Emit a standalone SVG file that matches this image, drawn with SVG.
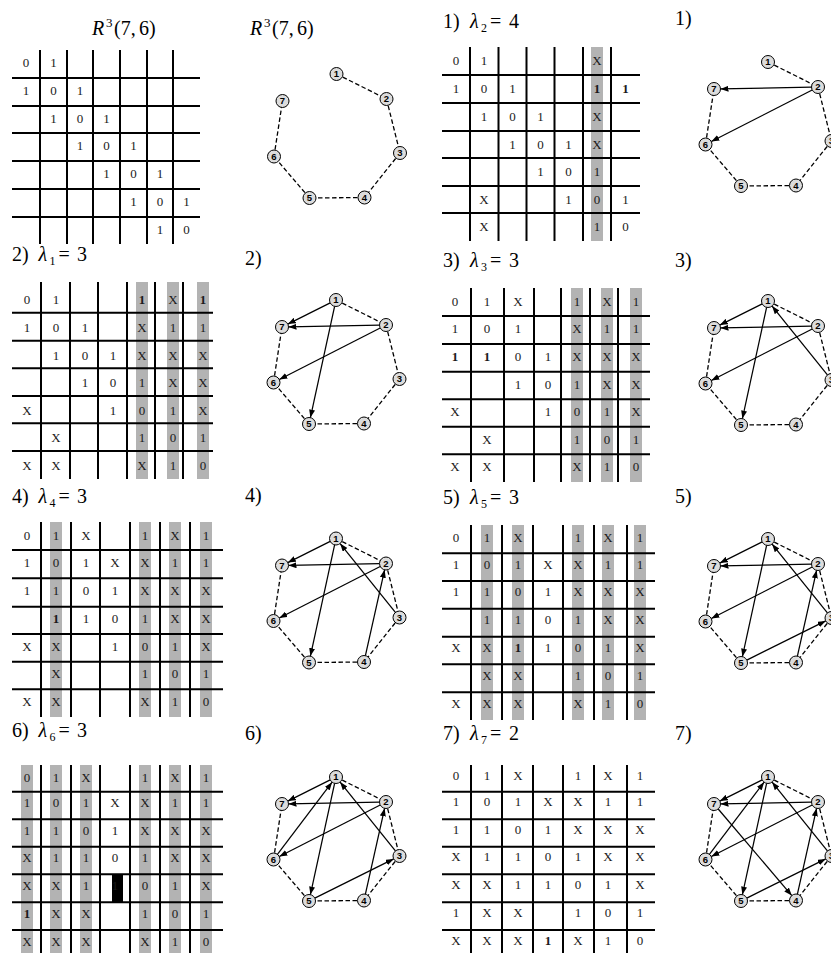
<svg xmlns="http://www.w3.org/2000/svg" width="831" height="953" viewBox="0 0 831 953">
<style>
.ml{stroke:#000;stroke-width:2;fill:none}
.gb{fill:#b3b3b3}
.c{font-family:"Liberation Serif","Times New Roman",serif;font-size:13px;fill:#1a1a1a;text-anchor:middle}
.b{font-weight:bold}
.t{font-family:"Liberation Serif","Times New Roman",serif;font-size:20px;fill:#000}
.it{font-style:italic}
.sb{font-size:12px}
.sp{font-size:13px}
.de{stroke:#000;stroke-width:1.3;stroke-dasharray:4.5 2.5;fill:none}
.ar{stroke:#000;stroke-width:1.25;fill:none;marker-end:url(#ah)}
.nd circle{fill:#dcdcdc;stroke:#000;stroke-width:1}
.nd text{font-family:"Liberation Sans",Arial,sans-serif;font-weight:bold;font-size:9.5px;text-anchor:middle;fill:#000}
</style>
<defs>
<marker id="ah" viewBox="0 0 8 6" refX="8" refY="3" markerWidth="8" markerHeight="6" markerUnits="userSpaceOnUse" orient="auto"><path d="M0 0L8 3L0 6z" fill="#000"/></marker>
</defs>
<rect width="831" height="953" fill="#fff"/>

<!-- Titles -->
<g id="titles">
<text class="t" y="35"><tspan x="92" class="it">R</tspan><tspan x="106" dy="-8" class="sp">3</tspan><tspan x="114" dy="8">(7,</tspan><tspan x="139">6)</tspan></text>
<text class="t" y="35"><tspan x="250" class="it">R</tspan><tspan x="264" dy="-8" class="sp">3</tspan><tspan x="272" dy="8">(7,</tspan><tspan x="297">6)</tspan></text>
<text class="t" y="27.5"><tspan x="443">1)</tspan><tspan x="470" class="it">λ</tspan><tspan x="481" dy="4" class="sb">2</tspan><tspan x="490" dy="-4">=</tspan><tspan x="509">4</tspan></text>
<text class="t" x="675" y="25">1)</text>
<text class="t" y="261"><tspan x="12">2)</tspan><tspan x="38.5" class="it">λ</tspan><tspan x="49.5" dy="4" class="sb">1</tspan><tspan x="58.5" dy="-4">=</tspan><tspan x="77">3</tspan></text>
<text class="t" x="245" y="265">2)</text>
<text class="t" y="267"><tspan x="443">3)</tspan><tspan x="470" class="it">λ</tspan><tspan x="481" dy="4" class="sb">3</tspan><tspan x="490" dy="-4">=</tspan><tspan x="509">3</tspan></text>
<text class="t" x="675" y="267">3)</text>
<text class="t" y="503"><tspan x="12">4)</tspan><tspan x="38.5" class="it">λ</tspan><tspan x="49.5" dy="4" class="sb">4</tspan><tspan x="58.5" dy="-4">=</tspan><tspan x="77">3</tspan></text>
<text class="t" x="245" y="502">4)</text>
<text class="t" y="504"><tspan x="443">5)</tspan><tspan x="470" class="it">λ</tspan><tspan x="481" dy="4" class="sb">5</tspan><tspan x="490" dy="-4">=</tspan><tspan x="509">3</tspan></text>
<text class="t" x="675" y="503">5)</text>
<text class="t" y="737"><tspan x="12">6)</tspan><tspan x="38.5" class="it">λ</tspan><tspan x="49.5" dy="4" class="sb">6</tspan><tspan x="58.5" dy="-4">=</tspan><tspan x="77">3</tspan></text>
<text class="t" x="245" y="740">6)</text>
<text class="t" y="740"><tspan x="443">7)</tspan><tspan x="470" class="it">λ</tspan><tspan x="481" dy="4" class="sb">7</tspan><tspan x="490" dy="-4">=</tspan><tspan x="509">2</tspan></text>
<text class="t" x="675" y="740">7)</text>
</g>

<!-- Matrix A: R3(7,6) -->
<g id="matA">
<path class="ml" d="M12 78H200M12 106H200M12 133H200M12 161H200M12 189H200M12 217H200M40 50V244M67 50V244M93 50V244M120 50V244M147 50V244M173 50V244"/>
<text class="c" y="66.5"><tspan x="26">0</tspan><tspan x="53.5">1</tspan></text>
<text class="c" y="94.5"><tspan x="26">1</tspan><tspan x="53.5">0</tspan><tspan x="80">1</tspan></text>
<text class="c" y="122.5"><tspan x="53.5">1</tspan><tspan x="80">0</tspan><tspan x="106.5">1</tspan></text>
<text class="c" y="149.5"><tspan x="80">1</tspan><tspan x="106.5">0</tspan><tspan x="133.5">1</tspan></text>
<text class="c" y="177.5"><tspan x="106.5">1</tspan><tspan x="133.5">0</tspan><tspan x="160">1</tspan></text>
<text class="c" y="205.5"><tspan x="133.5">1</tspan><tspan x="160">0</tspan><tspan x="186.5">1</tspan></text>
<text class="c" y="233.5"><tspan x="160">1</tspan><tspan x="186.5">0</tspan></text>
</g>

<!-- Matrix B: 1) -->
<g id="matB">
<rect class="gb" x="591" y="47" width="12" height="194"/>
<path class="ml" d="M442 75H640M442 103H640M442 131H640M442 158H640M442 186H640M442 213H640M470 47V241M498.5 47V241M526.5 47V241M554.5 47V241M583 47V241M611 47V241"/>
<text class="c" y="64.5"><tspan x="456">0</tspan><tspan x="484">1</tspan><tspan x="597">X</tspan></text>
<text class="c" y="92.8"><tspan x="456">1</tspan><tspan x="484">0</tspan><tspan x="512.5">1</tspan><tspan x="597" class="b">1</tspan><tspan x="625.5" class="b">1</tspan></text>
<text class="c" y="120.8"><tspan x="484">1</tspan><tspan x="512.5">0</tspan><tspan x="540.5">1</tspan><tspan x="597">X</tspan></text>
<text class="c" y="148.8"><tspan x="512.5">1</tspan><tspan x="540.5">0</tspan><tspan x="568.5">1</tspan><tspan x="597">X</tspan></text>
<text class="c" y="175.8"><tspan x="540.5">1</tspan><tspan x="568.5">0</tspan><tspan x="597">1</tspan></text>
<text class="c" y="203.8"><tspan x="484">X</tspan><tspan x="568.5">1</tspan><tspan x="597">0</tspan><tspan x="625.5">1</tspan></text>
<text class="c" y="230.8"><tspan x="484">X</tspan><tspan x="597">1</tspan><tspan x="625.5">0</tspan></text>
</g>

<!-- Matrix C: 2) -->
<g id="matC">
<rect class="gb" x="136" y="282" width="12" height="197"/>
<rect class="gb" x="167" y="282" width="12" height="197"/>
<rect class="gb" x="197" y="282" width="12" height="197"/>
<path class="ml" d="M12 312.7H213M12 340.7H213M12 368.3H213M12 396H213M12 423.3H213M12 451H213M41 282V479M70 282V479M98 282V479M127 282V479M155 282V479M183 282V479"/>
<text class="c" y="303.5"><tspan x="27">0</tspan><tspan x="56">1</tspan><tspan x="142" class="b">1</tspan><tspan x="173">X</tspan><tspan x="203" class="b">1</tspan></text>
<text class="c" y="331.7"><tspan x="27">1</tspan><tspan x="56">0</tspan><tspan x="85">1</tspan><tspan x="142">X</tspan><tspan x="173">1</tspan><tspan x="203">1</tspan></text>
<text class="c" y="359.7"><tspan x="56">1</tspan><tspan x="85">0</tspan><tspan x="113">1</tspan><tspan x="142">X</tspan><tspan x="173">X</tspan><tspan x="203">X</tspan></text>
<text class="c" y="387.3"><tspan x="85">1</tspan><tspan x="113">0</tspan><tspan x="142">1</tspan><tspan x="173">X</tspan><tspan x="203">X</tspan></text>
<text class="c" y="415"><tspan x="27">X</tspan><tspan x="113">1</tspan><tspan x="142">0</tspan><tspan x="173">1</tspan><tspan x="203">X</tspan></text>
<text class="c" y="442.3"><tspan x="56">X</tspan><tspan x="142">1</tspan><tspan x="173">0</tspan><tspan x="203">1</tspan></text>
<text class="c" y="470"><tspan x="27">X</tspan><tspan x="56">X</tspan><tspan x="142">X</tspan><tspan x="173">1</tspan><tspan x="203">0</tspan></text>
</g>

<!-- Matrix D: 3) -->
<g id="matD">
<rect class="gb" x="571" y="288" width="12" height="194"/>
<rect class="gb" x="601" y="288" width="12" height="194"/>
<rect class="gb" x="630" y="288" width="12" height="194"/>
<path class="ml" d="M442 316H650M442 344H650M442 371.7H650M442 399.3H650M442 426.7H650M442 454.3H650M471 288V482M504 288V482M534 288V482M561 288V482M590 288V482M618 288V482"/>
<text class="c" y="306"><tspan x="455">0</tspan><tspan x="487">1</tspan><tspan x="518">X</tspan><tspan x="577">1</tspan><tspan x="607">X</tspan><tspan x="636">1</tspan></text>
<text class="c" y="333"><tspan x="455">1</tspan><tspan x="487">0</tspan><tspan x="518">1</tspan><tspan x="577">X</tspan><tspan x="607">1</tspan><tspan x="636">1</tspan></text>
<text class="c" y="361"><tspan x="455" class="b">1</tspan><tspan x="487" class="b">1</tspan><tspan x="518">0</tspan><tspan x="548">1</tspan><tspan x="577">X</tspan><tspan x="607">X</tspan><tspan x="636">X</tspan></text>
<text class="c" y="388.7"><tspan x="518">1</tspan><tspan x="548">0</tspan><tspan x="577">1</tspan><tspan x="607">X</tspan><tspan x="636">X</tspan></text>
<text class="c" y="416.3"><tspan x="455">X</tspan><tspan x="548">1</tspan><tspan x="577">0</tspan><tspan x="607">1</tspan><tspan x="636">X</tspan></text>
<text class="c" y="443.7"><tspan x="487">X</tspan><tspan x="577">1</tspan><tspan x="607">0</tspan><tspan x="636">1</tspan></text>
<text class="c" y="471.3"><tspan x="455">X</tspan><tspan x="487">X</tspan><tspan x="577">X</tspan><tspan x="607">1</tspan><tspan x="636">0</tspan></text>
</g>

<!-- Matrix E: 4) -->
<g id="matE">
<rect class="gb" x="50" y="522" width="12" height="195"/>
<rect class="gb" x="139" y="522" width="12" height="195"/>
<rect class="gb" x="169" y="522" width="12" height="195"/>
<rect class="gb" x="200" y="522" width="12" height="195"/>
<path class="ml" d="M12 550H223M12 578.3H223M12 606.7H223M12 634H223M12 661.7H223M12 689.3H223M41 522V717M71 522V717M100 522V717M130 522V717M160 522V717M190 522V717"/>
<text class="c" y="540"><tspan x="27">0</tspan><tspan x="56">1</tspan><tspan x="86">X</tspan><tspan x="145">1</tspan><tspan x="175">X</tspan><tspan x="206">1</tspan></text>
<text class="c" y="566.5"><tspan x="27">1</tspan><tspan x="56">0</tspan><tspan x="86">1</tspan><tspan x="115">X</tspan><tspan x="145">X</tspan><tspan x="175">1</tspan><tspan x="206">1</tspan></text>
<text class="c" y="594.8"><tspan x="27">1</tspan><tspan x="56">1</tspan><tspan x="86">0</tspan><tspan x="115">1</tspan><tspan x="145">X</tspan><tspan x="175">X</tspan><tspan x="206">X</tspan></text>
<text class="c" y="623.2"><tspan x="56" class="b">1</tspan><tspan x="86">1</tspan><tspan x="115">0</tspan><tspan x="145">1</tspan><tspan x="175">X</tspan><tspan x="206">X</tspan></text>
<text class="c" y="650.5"><tspan x="27">X</tspan><tspan x="56">X</tspan><tspan x="115">1</tspan><tspan x="145">0</tspan><tspan x="175">1</tspan><tspan x="206">X</tspan></text>
<text class="c" y="678.2"><tspan x="56">X</tspan><tspan x="145">1</tspan><tspan x="175">0</tspan><tspan x="206">1</tspan></text>
<text class="c" y="705.8"><tspan x="27">X</tspan><tspan x="56">X</tspan><tspan x="145">X</tspan><tspan x="175">1</tspan><tspan x="206">0</tspan></text>
</g>

<!-- Matrix F: 5) -->
<g id="matF">
<rect class="gb" x="481" y="525" width="12" height="195"/>
<rect class="gb" x="512" y="525" width="12" height="195"/>
<rect class="gb" x="572" y="525" width="12" height="195"/>
<rect class="gb" x="602" y="525" width="12" height="195"/>
<rect class="gb" x="634" y="525" width="12" height="195"/>
<path class="ml" d="M442 553.3H655M442 581H655M442 608.7H655M442 636.7H655M442 664.3H655M442 692.3H655M471 525V720M502 525V720M533 525V720M563 525V720M594 525V720M627 525V720"/>
<text class="c" y="541.5"><tspan x="456">0</tspan><tspan x="487">1</tspan><tspan x="518">X</tspan><tspan x="578">1</tspan><tspan x="608">X</tspan><tspan x="640">1</tspan></text>
<text class="c" y="568.5"><tspan x="456">1</tspan><tspan x="487">0</tspan><tspan x="518">1</tspan><tspan x="548">X</tspan><tspan x="578">X</tspan><tspan x="608">1</tspan><tspan x="640">1</tspan></text>
<text class="c" y="596.2"><tspan x="456">1</tspan><tspan x="487">1</tspan><tspan x="518">0</tspan><tspan x="548">1</tspan><tspan x="578">X</tspan><tspan x="608">X</tspan><tspan x="640">X</tspan></text>
<text class="c" y="623.9"><tspan x="487">1</tspan><tspan x="518">1</tspan><tspan x="548">0</tspan><tspan x="578">1</tspan><tspan x="608">X</tspan><tspan x="640">X</tspan></text>
<text class="c" y="651.9"><tspan x="456">X</tspan><tspan x="487">X</tspan><tspan x="518" class="b">1</tspan><tspan x="548">1</tspan><tspan x="578">0</tspan><tspan x="608">1</tspan><tspan x="640">X</tspan></text>
<text class="c" y="679.5"><tspan x="487">X</tspan><tspan x="518">X</tspan><tspan x="578">1</tspan><tspan x="608">0</tspan><tspan x="640">1</tspan></text>
<text class="c" y="707.5"><tspan x="456">X</tspan><tspan x="487">X</tspan><tspan x="518">X</tspan><tspan x="578">X</tspan><tspan x="608">1</tspan><tspan x="640">0</tspan></text>
</g>

<!-- Matrix G: 6) -->
<g id="matG">
<rect class="gb" x="21" y="765" width="12" height="188"/>
<rect class="gb" x="50" y="765" width="12" height="188"/>
<rect class="gb" x="80" y="765" width="12" height="188"/>
<rect class="gb" x="139" y="765" width="12" height="188"/>
<rect class="gb" x="169" y="765" width="12" height="188"/>
<rect class="gb" x="200" y="765" width="12" height="188"/>
<rect x="112" y="874.3" width="11" height="28" fill="#000"/>
<path class="ml" d="M12 791.7H223M12 819.3H223M12 846.7H223M12 874.3H223M12 902.3H223M12 930H223M41 765V953M71 765V953M100 765V953M130 765V953M160 765V953M190 765V953"/>
<text class="c" y="782"><tspan x="27">0</tspan><tspan x="56">1</tspan><tspan x="86">X</tspan><tspan x="145">1</tspan><tspan x="175">X</tspan><tspan x="206">1</tspan></text>
<text class="c" y="807.2"><tspan x="27">1</tspan><tspan x="56">0</tspan><tspan x="86">1</tspan><tspan x="115">X</tspan><tspan x="145">X</tspan><tspan x="175">1</tspan><tspan x="206">1</tspan></text>
<text class="c" y="834.8"><tspan x="27">1</tspan><tspan x="56">1</tspan><tspan x="86">0</tspan><tspan x="115">1</tspan><tspan x="145">X</tspan><tspan x="175">X</tspan><tspan x="206">X</tspan></text>
<text class="c" y="862.2"><tspan x="27">X</tspan><tspan x="56">1</tspan><tspan x="86">1</tspan><tspan x="115">0</tspan><tspan x="145">1</tspan><tspan x="175">X</tspan><tspan x="206">X</tspan></text>
<text class="c" y="889.8"><tspan x="27">X</tspan><tspan x="56">X</tspan><tspan x="86">1</tspan><tspan x="115">1</tspan><tspan x="145">0</tspan><tspan x="175">1</tspan><tspan x="206">X</tspan></text>
<text class="c" y="917.8"><tspan x="27" class="b">1</tspan><tspan x="56">X</tspan><tspan x="86">X</tspan><tspan x="145">1</tspan><tspan x="175">0</tspan><tspan x="206">1</tspan></text>
<text class="c" y="945.5"><tspan x="27">X</tspan><tspan x="56">X</tspan><tspan x="86">X</tspan><tspan x="145">X</tspan><tspan x="175">1</tspan><tspan x="206">0</tspan></text>
</g>

<!-- Matrix H: 7) -->
<g id="matH">
<path class="ml" d="M442 791.7H655M442 819.3H655M442 846.7H655M442 874.3H655M442 902.3H655M442 930H655M471 765V953M502 765V953M533 765V953M563 765V953M594 765V953M627 765V953"/>
<text class="c" y="779.5"><tspan x="456">0</tspan><tspan x="487">1</tspan><tspan x="518">X</tspan><tspan x="578">1</tspan><tspan x="608">X</tspan><tspan x="640">1</tspan></text>
<text class="c" y="806.2"><tspan x="456">1</tspan><tspan x="487">0</tspan><tspan x="518">1</tspan><tspan x="548">X</tspan><tspan x="578">X</tspan><tspan x="608">1</tspan><tspan x="640">1</tspan></text>
<text class="c" y="833.8"><tspan x="456">1</tspan><tspan x="487">1</tspan><tspan x="518">0</tspan><tspan x="548">1</tspan><tspan x="578">X</tspan><tspan x="608">X</tspan><tspan x="640">X</tspan></text>
<text class="c" y="861.2"><tspan x="456">X</tspan><tspan x="487">1</tspan><tspan x="518">1</tspan><tspan x="548">0</tspan><tspan x="578">1</tspan><tspan x="608">X</tspan><tspan x="640">X</tspan></text>
<text class="c" y="888.8"><tspan x="456">X</tspan><tspan x="487">X</tspan><tspan x="518">1</tspan><tspan x="548">1</tspan><tspan x="578">0</tspan><tspan x="608">1</tspan><tspan x="640">X</tspan></text>
<text class="c" y="916.8"><tspan x="456">1</tspan><tspan x="487">X</tspan><tspan x="518">X</tspan><tspan x="578">1</tspan><tspan x="608">0</tspan><tspan x="640">1</tspan></text>
<text class="c" y="944.5"><tspan x="456">X</tspan><tspan x="487">X</tspan><tspan x="518">X</tspan><tspan x="548" class="b">1</tspan><tspan x="578">X</tspan><tspan x="608">1</tspan><tspan x="640">0</tspan></text>
</g>

<!-- Graph R3(7,6) -->
<g id="grR" transform="translate(336.5,74)">
<g id="grR-edges"><line class="de" x1="0" y1="0" x2="50" y2="25"/><line class="de" x1="50" y1="25" x2="63.5" y2="79"/><line class="de" x1="63.5" y1="79" x2="28" y2="123.5"/><line class="de" x1="28" y1="123.5" x2="-27" y2="124"/><line class="de" x1="-27" y1="124" x2="-62.5" y2="82.5"/><line class="de" x1="-62.5" y1="82.5" x2="-54" y2="27"/></g>
<g id="grR-n1" class="nd"><circle cx="0" cy="0" r="6.5"/><text x="0" y="3.4">1</text></g>
<g id="grR-n2" class="nd"><circle cx="50" cy="25" r="6.5"/><text x="50" y="28.4">2</text></g>
<g id="grR-n3" class="nd"><circle cx="63.5" cy="79" r="6.5"/><text x="63.5" y="82.4">3</text></g>
<g id="grR-n4" class="nd"><circle cx="28" cy="123.5" r="6.5"/><text x="28" y="126.9">4</text></g>
<g id="grR-n5" class="nd"><circle cx="-27" cy="124" r="6.5"/><text x="-27" y="127.4">5</text></g>
<g id="grR-n6" class="nd"><circle cx="-62.5" cy="82.5" r="6.5"/><text x="-62.5" y="85.9">6</text></g>
<g id="grR-n7" class="nd"><circle cx="-54" cy="27" r="6.5"/><text x="-54" y="30.4">7</text></g>
</g>

<!-- Graph 1) -->
<g id="gr1" transform="translate(768,62)">
<g id="gr1-edges"><line class="de" x1="0" y1="0" x2="50" y2="25"/><line class="de" x1="50" y1="25" x2="63.5" y2="79"/><line class="de" x1="63.5" y1="79" x2="28" y2="123.5"/><line class="de" x1="28" y1="123.5" x2="-27" y2="124"/><line class="de" x1="-27" y1="124" x2="-62.5" y2="82.5"/><line class="de" x1="-62.5" y1="82.5" x2="-54" y2="27"/>
<line class="ar" x1="43.5" y1="25.1" x2="-47.5" y2="26.9"/><line class="ar" x1="44.2" y1="28" x2="-56.7" y2="79.5"/></g>
<g id="gr1-n1" class="nd"><circle cx="0" cy="0" r="6.5"/><text x="0" y="3.4">1</text></g>
<g id="gr1-n2" class="nd"><circle cx="50" cy="25" r="6.5"/><text x="50" y="28.4">2</text></g>
<g id="gr1-n3" class="nd"><circle cx="63.5" cy="79" r="6.5"/><text x="63.5" y="82.4">3</text></g>
<g id="gr1-n4" class="nd"><circle cx="28" cy="123.5" r="6.5"/><text x="28" y="126.9">4</text></g>
<g id="gr1-n5" class="nd"><circle cx="-27" cy="124" r="6.5"/><text x="-27" y="127.4">5</text></g>
<g id="gr1-n6" class="nd"><circle cx="-62.5" cy="82.5" r="6.5"/><text x="-62.5" y="85.9">6</text></g>
<g id="gr1-n7" class="nd"><circle cx="-54" cy="27" r="6.5"/><text x="-54" y="30.4">7</text></g>
</g>

<!-- Graph 2) -->
<g id="gr2" transform="translate(336,300)">
<g id="gr2-edges"><line class="de" x1="0" y1="0" x2="50" y2="25"/><line class="de" x1="50" y1="25" x2="63.5" y2="79"/><line class="de" x1="63.5" y1="79" x2="28" y2="123.5"/><line class="de" x1="28" y1="123.5" x2="-27" y2="124"/><line class="de" x1="-27" y1="124" x2="-62.5" y2="82.5"/><line class="de" x1="-62.5" y1="82.5" x2="-54" y2="27"/>
<line class="ar" x1="43.5" y1="25.1" x2="-47.5" y2="26.9"/><line class="ar" x1="44.2" y1="28" x2="-56.7" y2="79.5"/><line class="ar" x1="-5.8" y1="2.9" x2="-48.2" y2="24.1"/><line class="ar" x1="-1.4" y1="6.4" x2="-25.6" y2="117.6"/></g>
<g id="gr2-n1" class="nd"><circle cx="0" cy="0" r="6.5"/><text x="0" y="3.4">1</text></g>
<g id="gr2-n2" class="nd"><circle cx="50" cy="25" r="6.5"/><text x="50" y="28.4">2</text></g>
<g id="gr2-n3" class="nd"><circle cx="63.5" cy="79" r="6.5"/><text x="63.5" y="82.4">3</text></g>
<g id="gr2-n4" class="nd"><circle cx="28" cy="123.5" r="6.5"/><text x="28" y="126.9">4</text></g>
<g id="gr2-n5" class="nd"><circle cx="-27" cy="124" r="6.5"/><text x="-27" y="127.4">5</text></g>
<g id="gr2-n6" class="nd"><circle cx="-62.5" cy="82.5" r="6.5"/><text x="-62.5" y="85.9">6</text></g>
<g id="gr2-n7" class="nd"><circle cx="-54" cy="27" r="6.5"/><text x="-54" y="30.4">7</text></g>
</g>

<!-- Graph 3) -->
<g id="gr3" transform="translate(768,301)">
<g id="gr3-edges"><line class="de" x1="0" y1="0" x2="50" y2="25"/><line class="de" x1="50" y1="25" x2="63.5" y2="79"/><line class="de" x1="63.5" y1="79" x2="28" y2="123.5"/><line class="de" x1="28" y1="123.5" x2="-27" y2="124"/><line class="de" x1="-27" y1="124" x2="-62.5" y2="82.5"/><line class="de" x1="-62.5" y1="82.5" x2="-54" y2="27"/>
<line class="ar" x1="43.5" y1="25.1" x2="-47.5" y2="26.9"/><line class="ar" x1="44.2" y1="28" x2="-56.7" y2="79.5"/><line class="ar" x1="-5.8" y1="2.9" x2="-48.2" y2="24.1"/><line class="ar" x1="-1.4" y1="6.4" x2="-25.6" y2="117.6"/><line class="ar" x1="59.4" y1="73.9" x2="4.1" y2="5.1"/></g>
<g id="gr3-n1" class="nd"><circle cx="0" cy="0" r="6.5"/><text x="0" y="3.4">1</text></g>
<g id="gr3-n2" class="nd"><circle cx="50" cy="25" r="6.5"/><text x="50" y="28.4">2</text></g>
<g id="gr3-n3" class="nd"><circle cx="63.5" cy="79" r="6.5"/><text x="63.5" y="82.4">3</text></g>
<g id="gr3-n4" class="nd"><circle cx="28" cy="123.5" r="6.5"/><text x="28" y="126.9">4</text></g>
<g id="gr3-n5" class="nd"><circle cx="-27" cy="124" r="6.5"/><text x="-27" y="127.4">5</text></g>
<g id="gr3-n6" class="nd"><circle cx="-62.5" cy="82.5" r="6.5"/><text x="-62.5" y="85.9">6</text></g>
<g id="gr3-n7" class="nd"><circle cx="-54" cy="27" r="6.5"/><text x="-54" y="30.4">7</text></g>
</g>

<!-- Graph 4) -->
<g id="gr4" transform="translate(336,538.5)">
<g id="gr4-edges"><line class="de" x1="0" y1="0" x2="50" y2="25"/><line class="de" x1="50" y1="25" x2="63.5" y2="79"/><line class="de" x1="63.5" y1="79" x2="28" y2="123.5"/><line class="de" x1="28" y1="123.5" x2="-27" y2="124"/><line class="de" x1="-27" y1="124" x2="-62.5" y2="82.5"/><line class="de" x1="-62.5" y1="82.5" x2="-54" y2="27"/>
<line class="ar" x1="43.5" y1="25.1" x2="-47.5" y2="26.9"/><line class="ar" x1="44.2" y1="28" x2="-56.7" y2="79.5"/><line class="ar" x1="-5.8" y1="2.9" x2="-48.2" y2="24.1"/><line class="ar" x1="-1.4" y1="6.4" x2="-25.6" y2="117.6"/><line class="ar" x1="59.4" y1="73.9" x2="4.1" y2="5.1"/><line class="ar" x1="29.4" y1="117.2" x2="48.6" y2="31.3"/></g>
<g id="gr4-n1" class="nd"><circle cx="0" cy="0" r="6.5"/><text x="0" y="3.4">1</text></g>
<g id="gr4-n2" class="nd"><circle cx="50" cy="25" r="6.5"/><text x="50" y="28.4">2</text></g>
<g id="gr4-n3" class="nd"><circle cx="63.5" cy="79" r="6.5"/><text x="63.5" y="82.4">3</text></g>
<g id="gr4-n4" class="nd"><circle cx="28" cy="123.5" r="6.5"/><text x="28" y="126.9">4</text></g>
<g id="gr4-n5" class="nd"><circle cx="-27" cy="124" r="6.5"/><text x="-27" y="127.4">5</text></g>
<g id="gr4-n6" class="nd"><circle cx="-62.5" cy="82.5" r="6.5"/><text x="-62.5" y="85.9">6</text></g>
<g id="gr4-n7" class="nd"><circle cx="-54" cy="27" r="6.5"/><text x="-54" y="30.4">7</text></g>
</g>

<!-- Graph 5) -->
<g id="gr5" transform="translate(768,539)">
<g id="gr5-edges"><line class="de" x1="0" y1="0" x2="50" y2="25"/><line class="de" x1="50" y1="25" x2="63.5" y2="79"/><line class="de" x1="63.5" y1="79" x2="28" y2="123.5"/><line class="de" x1="28" y1="123.5" x2="-27" y2="124"/><line class="de" x1="-27" y1="124" x2="-62.5" y2="82.5"/><line class="de" x1="-62.5" y1="82.5" x2="-54" y2="27"/>
<line class="ar" x1="43.5" y1="25.1" x2="-47.5" y2="26.9"/><line class="ar" x1="44.2" y1="28" x2="-56.7" y2="79.5"/><line class="ar" x1="-5.8" y1="2.9" x2="-48.2" y2="24.1"/><line class="ar" x1="-1.4" y1="6.4" x2="-25.6" y2="117.6"/><line class="ar" x1="59.4" y1="73.9" x2="4.1" y2="5.1"/><line class="ar" x1="29.4" y1="117.2" x2="48.6" y2="31.3"/><line class="ar" x1="-21.2" y1="121.1" x2="57.7" y2="81.9"/></g>
<g id="gr5-n1" class="nd"><circle cx="0" cy="0" r="6.5"/><text x="0" y="3.4">1</text></g>
<g id="gr5-n2" class="nd"><circle cx="50" cy="25" r="6.5"/><text x="50" y="28.4">2</text></g>
<g id="gr5-n3" class="nd"><circle cx="63.5" cy="79" r="6.5"/><text x="63.5" y="82.4">3</text></g>
<g id="gr5-n4" class="nd"><circle cx="28" cy="123.5" r="6.5"/><text x="28" y="126.9">4</text></g>
<g id="gr5-n5" class="nd"><circle cx="-27" cy="124" r="6.5"/><text x="-27" y="127.4">5</text></g>
<g id="gr5-n6" class="nd"><circle cx="-62.5" cy="82.5" r="6.5"/><text x="-62.5" y="85.9">6</text></g>
<g id="gr5-n7" class="nd"><circle cx="-54" cy="27" r="6.5"/><text x="-54" y="30.4">7</text></g>
</g>

<!-- Graph 6) -->
<g id="gr6" transform="translate(336,777)">
<g id="gr6-edges"><line class="de" x1="0" y1="0" x2="50" y2="25"/><line class="de" x1="50" y1="25" x2="63.5" y2="79"/><line class="de" x1="63.5" y1="79" x2="28" y2="123.5"/><line class="de" x1="28" y1="123.5" x2="-27" y2="124"/><line class="de" x1="-27" y1="124" x2="-62.5" y2="82.5"/><line class="de" x1="-62.5" y1="82.5" x2="-54" y2="27"/>
<line class="ar" x1="43.5" y1="25.1" x2="-47.5" y2="26.9"/><line class="ar" x1="44.2" y1="28" x2="-56.7" y2="79.5"/><line class="ar" x1="-5.8" y1="2.9" x2="-48.2" y2="24.1"/><line class="ar" x1="-1.4" y1="6.4" x2="-25.6" y2="117.6"/><line class="ar" x1="59.4" y1="73.9" x2="4.1" y2="5.1"/><line class="ar" x1="29.4" y1="117.2" x2="48.6" y2="31.3"/><line class="ar" x1="-21.2" y1="121.1" x2="57.7" y2="81.9"/><line class="ar" x1="-58.6" y1="77.3" x2="-3.9" y2="5.2"/></g>
<g id="gr6-n1" class="nd"><circle cx="0" cy="0" r="6.5"/><text x="0" y="3.4">1</text></g>
<g id="gr6-n2" class="nd"><circle cx="50" cy="25" r="6.5"/><text x="50" y="28.4">2</text></g>
<g id="gr6-n3" class="nd"><circle cx="63.5" cy="79" r="6.5"/><text x="63.5" y="82.4">3</text></g>
<g id="gr6-n4" class="nd"><circle cx="28" cy="123.5" r="6.5"/><text x="28" y="126.9">4</text></g>
<g id="gr6-n5" class="nd"><circle cx="-27" cy="124" r="6.5"/><text x="-27" y="127.4">5</text></g>
<g id="gr6-n6" class="nd"><circle cx="-62.5" cy="82.5" r="6.5"/><text x="-62.5" y="85.9">6</text></g>
<g id="gr6-n7" class="nd"><circle cx="-54" cy="27" r="6.5"/><text x="-54" y="30.4">7</text></g>
</g>

<!-- Graph 7) -->
<g id="gr7" transform="translate(768,777)">
<g id="gr7-edges"><line class="de" x1="0" y1="0" x2="50" y2="25"/><line class="de" x1="50" y1="25" x2="63.5" y2="79"/><line class="de" x1="63.5" y1="79" x2="28" y2="123.5"/><line class="de" x1="28" y1="123.5" x2="-27" y2="124"/><line class="de" x1="-27" y1="124" x2="-62.5" y2="82.5"/><line class="de" x1="-62.5" y1="82.5" x2="-54" y2="27"/>
<line class="ar" x1="43.5" y1="25.1" x2="-47.5" y2="26.9"/><line class="ar" x1="44.2" y1="28" x2="-56.7" y2="79.5"/><line class="ar" x1="-5.8" y1="2.9" x2="-48.2" y2="24.1"/><line class="ar" x1="-1.4" y1="6.4" x2="-25.6" y2="117.6"/><line class="ar" x1="59.4" y1="73.9" x2="4.1" y2="5.1"/><line class="ar" x1="29.4" y1="117.2" x2="48.6" y2="31.3"/><line class="ar" x1="-21.2" y1="121.1" x2="57.7" y2="81.9"/><line class="ar" x1="-58.6" y1="77.3" x2="-3.9" y2="5.2"/><line class="ar" x1="-49.8" y1="32" x2="23.8" y2="118.6"/></g>
<g id="gr7-n1" class="nd"><circle cx="0" cy="0" r="6.5"/><text x="0" y="3.4">1</text></g>
<g id="gr7-n2" class="nd"><circle cx="50" cy="25" r="6.5"/><text x="50" y="28.4">2</text></g>
<g id="gr7-n3" class="nd"><circle cx="63.5" cy="79" r="6.5"/><text x="63.5" y="82.4">3</text></g>
<g id="gr7-n4" class="nd"><circle cx="28" cy="123.5" r="6.5"/><text x="28" y="126.9">4</text></g>
<g id="gr7-n5" class="nd"><circle cx="-27" cy="124" r="6.5"/><text x="-27" y="127.4">5</text></g>
<g id="gr7-n6" class="nd"><circle cx="-62.5" cy="82.5" r="6.5"/><text x="-62.5" y="85.9">6</text></g>
<g id="gr7-n7" class="nd"><circle cx="-54" cy="27" r="6.5"/><text x="-54" y="30.4">7</text></g>
</g>
</svg>
